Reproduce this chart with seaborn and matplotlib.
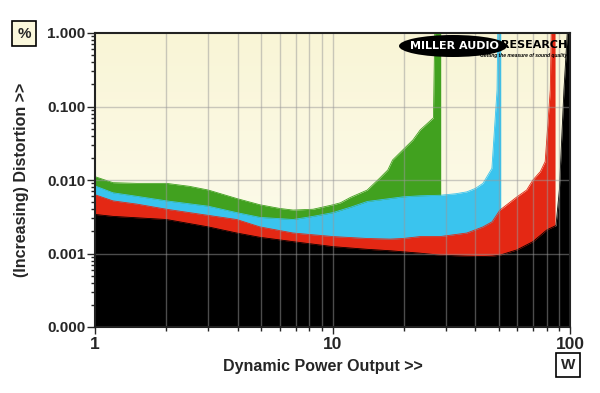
import seaborn as sns
import matplotlib.pyplot as plt
import matplotlib.ticker as mticker
from matplotlib.patches import Ellipse
import numpy as np
import pandas as pd

# power (W) / distortion (%) readings, one array pair per trace
green_x = [1.0, 1.19, 1.5, 2.0, 2.5, 3.0, 3.95, 4.95, 6.0, 6.82, 8.28, 10.05, 10.8, 11.9,
           14.0, 15.8, 17.1, 17.9, 21.8, 23.4, 26.6, 27.0, 28.55]
green_y = [0.0111, 0.0092, 0.0090, 0.0090, 0.0082, 0.0073, 0.0056, 0.0046, 0.0041, 0.0039,
           0.0040, 0.0046, 0.0049, 0.0058, 0.0073, 0.0106, 0.0137, 0.0187, 0.035, 0.048,
           0.070, 1.5, 1.5]

cyan_x = [1.0, 1.19, 1.5, 2.0, 3.0, 3.95, 4.95, 6.82, 8.28, 10.05, 12.0, 14.0, 17.5, 19.8,
          23.4, 28.4, 33.0, 36.8, 40.0, 43.0, 46.9, 49.3, 49.7, 51.1]
cyan_y = [0.0083, 0.0067, 0.0060, 0.0052, 0.0044, 0.0036, 0.0031, 0.0029, 0.0032, 0.0036,
          0.0043, 0.0051, 0.0056, 0.0059, 0.0061, 0.0062, 0.0065, 0.0069, 0.0077, 0.0090,
          0.0144, 0.168, 1.5, 1.5]

red_x = [1.0, 1.19, 1.5, 2.0, 3.0, 3.95, 4.95, 6.82, 10.05, 14.0, 17.5, 19.8, 23.4, 28.4,
         36.8, 43.0, 47.0, 50.7, 59.8, 65.7, 69.8, 75.0, 78.6, 82.6, 83.5, 86.5]
red_y = [0.0063, 0.0052, 0.0047, 0.0040, 0.0033, 0.0029, 0.0023, 0.0019, 0.0017, 0.0016,
         0.00157, 0.0016, 0.0017, 0.0017, 0.0019, 0.0023, 0.0027, 0.0039, 0.0059, 0.0073,
         0.0100, 0.0130, 0.0178, 0.168, 1.5, 1.5]

black_x = [1.0, 1.19, 2.0, 3.0, 3.95, 4.95, 6.82, 10.05, 14.0, 17.5, 23.4, 28.4, 36.8, 43.0,
           47.0, 50.7, 59.8, 69.8, 80.0, 87.3, 90.2, 94.3, 98.1, 100.0]
black_y = [0.0034, 0.0032, 0.0029, 0.0023, 0.0019, 0.00166, 0.00145, 0.00124, 0.00114,
           0.00109, 0.00101, 0.00095, 0.00092, 0.00091, 0.00092, 0.00095, 0.00112, 0.00145,
           0.0021, 0.0024, 0.0073, 0.168, 1.5, 1.5]

traces = [
    (green_x, green_y, '#41a11f'),
    (cyan_x, cyan_y, '#3ac4ee'),
    (red_x, red_y, '#e42814'),
    (black_x, black_y, '#000000'),
]

y_ticks = [0.0001, 0.001, 0.01, 0.1, 1.0]

sns.set_style('ticks')
plt.rcParams['font.family'] = ['Liberation Sans', 'DejaVu Sans']

fig = plt.figure(figsize=(6, 3.93), dpi=100)
ax = fig.add_axes([95 / 600, 1 - 327 / 393, 475 / 600, 294 / 393])
ax.set_xscale('log')
ax.set_yscale('log')
ax.set_xlim(1, 100)
ax.set_ylim(0.0001, 1.0)

# cream gradient background
grad = np.linspace(0, 1, 256).reshape(-1, 1)
top = np.array([249, 245, 214]) / 255
bot = np.array([254, 254, 244]) / 255
img = top + (bot - top) * grad[:, :, None]
ax.imshow(img, extent=[0, 1, 0, 1], transform=ax.transAxes, aspect='auto', zorder=0)

for xs, ys, col in traces:
    df = pd.DataFrame({'W': xs, 'pct': ys})
    ax.fill_between(df['W'], 0.0001, df['pct'], color=col, lw=0, zorder=2)
    sns.lineplot(data=df, x='W', y='pct', color=col, lw=0.6, ax=ax, zorder=2, sort=False)

# grid over the fills
for xv in list(np.arange(2, 10)) + list(np.arange(20, 100, 10)) + [10]:
    ax.axvline(xv, color='#999999', alpha=0.5, lw=1.0, zorder=3)
for yv in y_ticks[1:-1]:
    ax.axhline(yv, color='#999999', alpha=0.5, lw=1.0, zorder=3)

ax.yaxis.set_major_locator(mticker.FixedLocator(y_ticks))
ax.yaxis.set_major_formatter(mticker.FixedFormatter([f'{v:.3f}' for v in y_ticks]))
ax.yaxis.set_minor_locator(mticker.LogLocator(base=10, subs=np.arange(2, 10)))
ax.yaxis.set_minor_formatter(mticker.NullFormatter())
ax.xaxis.set_major_locator(mticker.FixedLocator([1, 10, 100]))
ax.xaxis.set_major_formatter(mticker.FixedFormatter(['1', '10', '100']))
ax.xaxis.set_minor_locator(mticker.LogLocator(base=10, subs=np.arange(2, 10)))
ax.xaxis.set_minor_formatter(mticker.NullFormatter())

ax.tick_params(axis='y', which='major', length=6, width=1, pad=1, labelsize=11)
ax.tick_params(axis='y', which='minor', length=3, width=1)
ax.tick_params(axis='x', which='major', length=5, width=1, pad=2, labelsize=12.5)
ax.tick_params(axis='x', which='minor', length=3, width=1)
for lab in ax.get_xticklabels() + ax.get_yticklabels():
    lab.set_fontweight('bold')

for side in ['top', 'left', 'bottom', 'right']:
    ax.spines[side].set_color('#222222')
    ax.spines[side].set_linewidth(1.5)
    ax.spines[side].set_zorder(5)

ax.set_xlabel('')
ax.set_ylabel('')
fig.text(323 / 600, 1 - 366 / 393, 'Dynamic Power Output >>', ha='center', va='center',
         fontsize=11.5, fontweight='bold')
fig.text(22 / 600, 1 - 180 / 393, '(Increasing) Distortion >>', ha='center', va='center',
         rotation=90, fontsize=11.5, fontweight='bold')

fig.text(24 / 600, 1 - 33.5 / 393, '%', ha='center', va='center', fontsize=11, fontweight='bold',
         bbox=dict(boxstyle='square,pad=0.35', fc='#fbf8dc', ec='black', lw=1.2))
fig.text(568 / 600, 1 - 365 / 393, 'W', ha='center', va='center', fontsize=11, fontweight='bold',
         bbox=dict(boxstyle='square,pad=0.3', fc='white', ec='black', lw=1.2))

# logo
fig.add_artist(Ellipse((453 / 600, 1 - 46 / 393), 108 / 600, 22 / 393, transform=fig.transFigure,
                       fc='black', ec='none', zorder=6))
fig.text(454 / 600, 1 - 46 / 393, 'MILLER AUDIO', ha='center', va='center', color='white',
         fontsize=8, fontweight='bold', family='DejaVu Sans', zorder=7)
fig.text(567 / 600, 1 - 45 / 393, 'RESEARCH', ha='right', va='center', color='black',
         fontsize=8, fontweight='bold', family='DejaVu Sans', zorder=7)
fig.text(567 / 600, 1 - 56 / 393, 'Getting the measure of sound quality', ha='right', va='center',
         color='black', fontsize=3.6, fontweight='bold', style='italic', zorder=7)

fig.savefig('out.png', dpi=100, facecolor='white')
